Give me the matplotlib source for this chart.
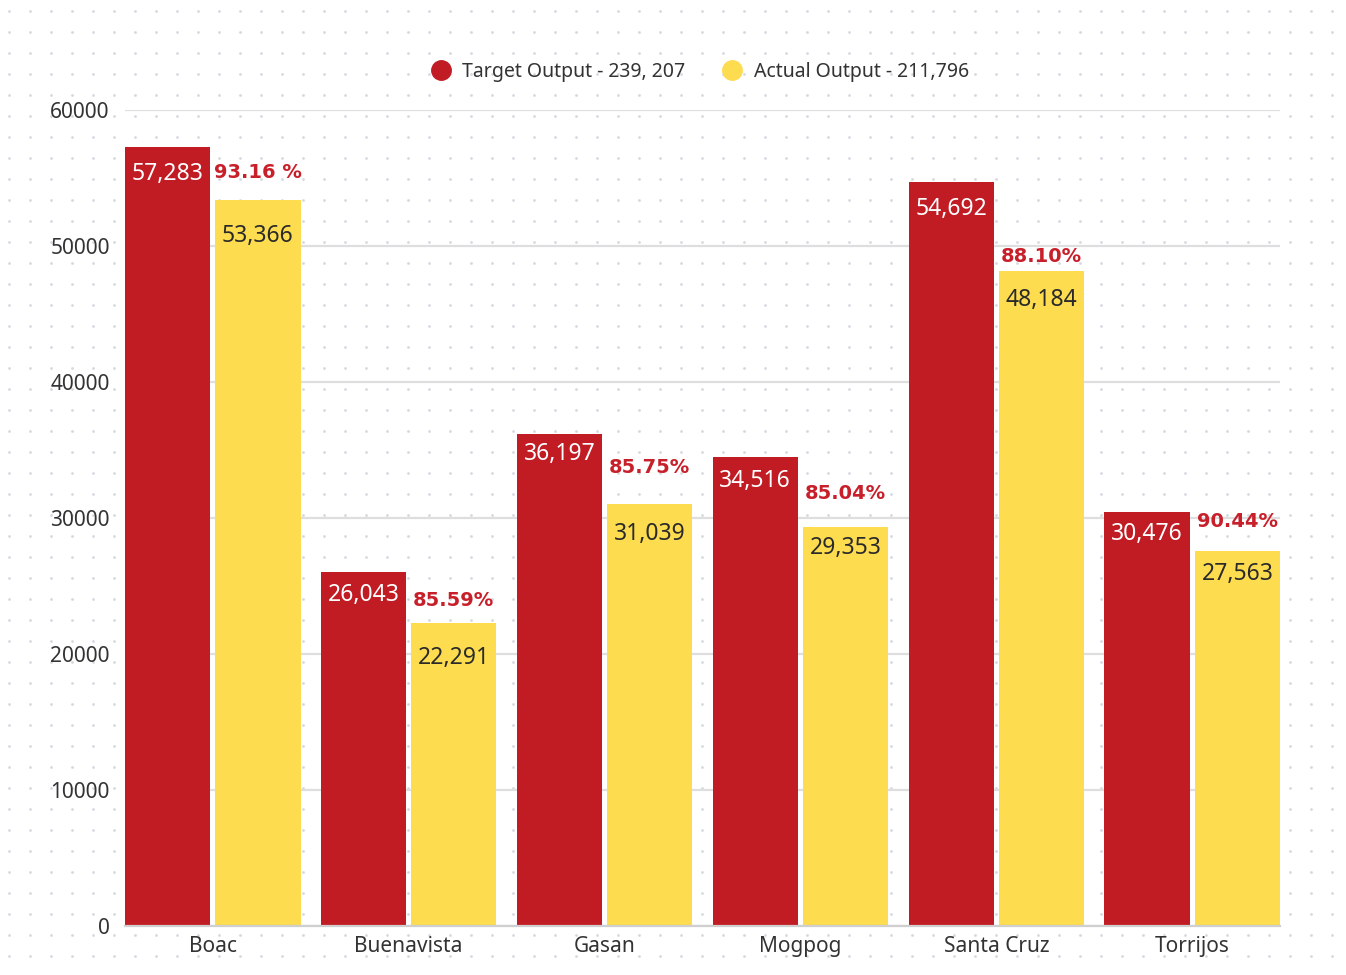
import numpy as np
import matplotlib

matplotlib.use("Agg")
import matplotlib.pyplot as plt  # noqa: E402
from matplotlib.lines import Line2D  # noqa: E402

# data
towns = ["Boac", "Buenavista", "Gasan", "Mogpog", "Santa Cruz", "Torrijos"]
target = [57283, 26043, 36197, 34516, 54692, 30476]
actual = [53366, 22291, 31039, 29353, 48184, 27563]
pct_labels = ["93.16 %", "85.59%", "85.75%", "85.04%", "88.10%", "90.44%"]
legend_labels = ["Target Output - 239, 207", "Actual Output - 211,796"]

# style / placement (not data)
RED = "#C11C24"
YELLOW = "#FDDC50"
DARK = "#2a2a2a"
red_offsets = [27, 23, 20, 24, 27, 22]      # px below red bar top
yel_offsets = [36, 35, 30, 21, 29, 23]      # px below yellow bar top
pct_offsets = [28, 22, 36, 33, 14, 30]      # px above yellow bar top
plt.rcParams["font.family"] = ["Noto Sans", "DejaVu Sans"]

fig = plt.figure(figsize=(13.46, 9.75), dpi=100)

# dotted page background
bg = fig.add_axes([0, 0, 1, 1], zorder=-1)
bg.set_xlim(0, 1346)
bg.set_ylim(975, 0)
gx, gy = np.meshgrid(np.arange(9, 1346, 21), np.arange(10.5, 975, 21))
bg.scatter(gx.ravel(), gy.ravel(), s=4, color="#D4D9E1", linewidths=0)
bg.axis("off")

ax = fig.add_axes([125 / 1346, 1 - 926 / 975, 1155 / 1346, 816 / 975])
ax.set_facecolor("none")

w, gap = 0.435, 0.026
off = w / 2 + gap / 2
x = np.arange(len(towns))
b1 = ax.bar(x - off, target, w, color=RED, zorder=2)
b2 = ax.bar(x + off, actual, w, color=YELLOW, zorder=2)

for bar, v, o in zip(b1, target, red_offsets):
    ax.annotate(f"{v:,}", (bar.get_x() + w / 2, v), xytext=(0, -o),
                textcoords="offset pixels", ha="center", va="center",
                fontsize=16.5, color="white", zorder=3)
for bar, v, o, p, po in zip(b2, actual, yel_offsets, pct_labels, pct_offsets):
    ax.annotate(f"{v:,}", (bar.get_x() + w / 2, v), xytext=(0, -o),
                textcoords="offset pixels", ha="center", va="center",
                fontsize=16.5, color=DARK, zorder=3)
    ax.annotate(p, (bar.get_x() + w / 2, v), xytext=(0, po),
                textcoords="offset pixels", ha="center", va="center",
                fontsize=14, fontweight="bold", color="#C8202B",
                family="DejaVu Sans", zorder=3)

ax.set_xlim(-off - w / 2, len(towns) - 1 + off + w / 2)
ax.set_ylim(0, 60000)
ax.set_yticks(range(0, 60001, 10000))
ax.set_xticks(x)
ax.set_xticklabels(towns)
ax.tick_params(axis="y", length=0, pad=11, labelsize=15, labelcolor="#333333")
ax.tick_params(axis="x", length=0, pad=7, labelsize=15, labelcolor="#333333")
ax.yaxis.grid(True, color="#DEDEDE", linewidth=1.6)
ax.set_axisbelow(True)
for s in ["top", "right", "left"]:
    ax.spines[s].set_visible(False)
ax.spines["bottom"].set_color("#CFCFCF")
ax.spines["bottom"].set_linewidth(1.6)

handles = [Line2D([], [], marker="o", ls="", color=c, markersize=14)
           for c in (RED, YELLOW)]
fig.legend(handles, legend_labels, loc="center", bbox_to_anchor=(695 / 1346, 1 - 72 / 975),
           ncol=2, frameon=False, fontsize=14, handletextpad=0.1,
           columnspacing=1.4, labelcolor="#333333")

fig.savefig("out.png", dpi=100)
